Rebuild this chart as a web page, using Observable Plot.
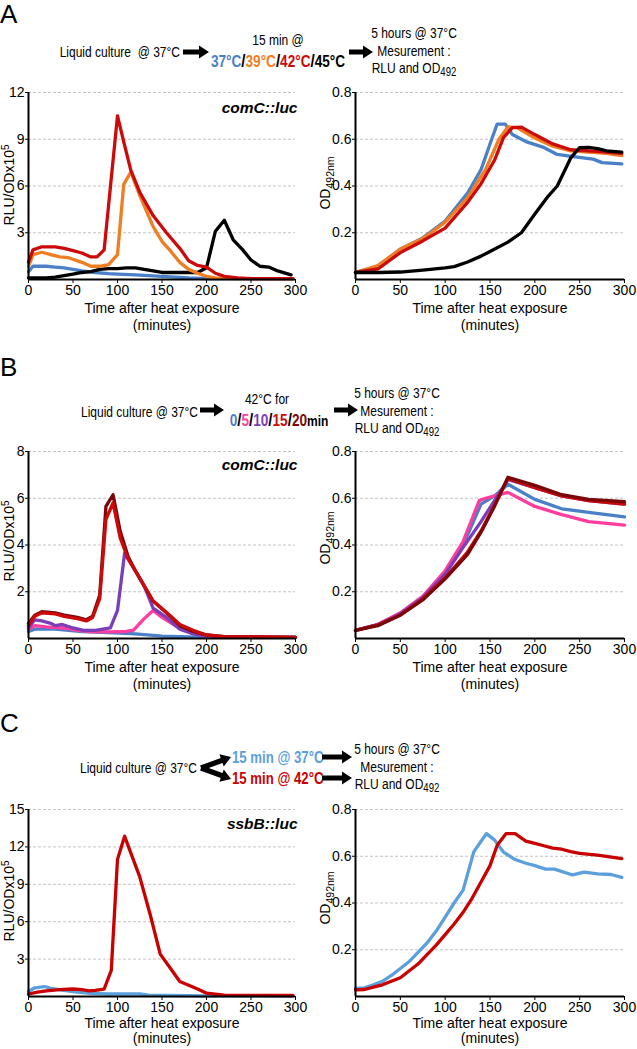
<!DOCTYPE html>
<html><head><meta charset="utf-8">
<script src="https://cdn.jsdelivr.net/npm/d3@7"></script>
<script src="https://cdn.jsdelivr.net/npm/@observablehq/plot@0.6"></script>
<style>
body{margin:0;background:#fff}
#root{position:relative;width:637px;height:1049px;overflow:hidden;background:#fff;font-family:"Liberation Sans",Arial,sans-serif}
#ov{position:absolute;left:0;top:0;pointer-events:none}
</style>
</head><body><div id="root"></div>
<script>
// ---------- DATA (time in minutes, value) ----------
const xTicks = [0, 50, 100, 150, 200, 250, 300];
const rluTicksA = [3, 6, 9, 12];
const rluTicksB = [2, 4, 6, 8];
const rluTicksC = [3, 6, 9, 12, 15];
const odTicks = [0.2, 0.4, 0.6, 0.8];

// Panel A - comC::luc, RLU
const aRlu37 = [[0,0.5],[5,0.85],[20,0.85],[30,0.8],[40,0.75],[50,0.65],[60,0.55],[75,0.45],[90,0.38],[100,0.35],[120,0.3],[150,0.2],[180,0.1],[200,0.06],[250,0.05],[297,0.05]];
const aRlu39 = [[0,0.85],[5,1.6],[15,1.75],[25,1.6],[35,1.45],[45,1.4],[60,1.1],[70,0.85],[80,0.85],[90,0.95],[100,1.6],[107,6.1],[115,6.9],[125,5.4],[140,3.4],[150,2.45],[160,1.8],[170,1.1],[180,0.65],[190,0.4],[200,0.2],[210,0.1],[230,0.06],[297,0.05]];
const aRlu42 = [[0,1.1],[5,1.9],[15,2.1],[30,2.1],[40,2.0],[50,1.85],[60,1.7],[70,1.45],[77,1.45],[85,1.9],[100,10.5],[108,8.6],[115,7.0],[125,5.6],[140,4.1],[155,3.0],[170,2.0],[180,1.2],[190,0.9],[200,0.8],[210,0.4],[220,0.2],[235,0.1],[250,0.05],[297,0.05]];
const aRlu45 = [[0,0.1],[20,0.1],[30,0.15],[40,0.25],[50,0.35],[60,0.45],[70,0.5],[80,0.65],[90,0.7],[100,0.7],[110,0.75],[120,0.75],[130,0.65],[140,0.55],[150,0.45],[170,0.45],[190,0.45],[200,0.75],[210,3.1],[220,3.8],[230,2.55],[240,1.95],[250,1.25],[260,0.85],[270,0.8],[280,0.55],[295,0.3]];
// Panel A - OD492
const aOd37 = [[0,0.03],[25,0.057],[50,0.13],[75,0.178],[100,0.25],[125,0.37],[140,0.47],[150,0.58],[158,0.665],[167,0.665],[175,0.62],[190,0.59],[210,0.565],[225,0.535],[245,0.525],[265,0.515],[275,0.5],[297,0.495]];
const aOd39 = [[0,0.03],[25,0.06],[50,0.13],[75,0.175],[100,0.245],[125,0.35],[145,0.47],[160,0.6],[170,0.653],[180,0.65],[200,0.605],[220,0.57],[240,0.55],[260,0.545],[280,0.54],[297,0.53]];
const aOd42 = [[0,0.03],[25,0.045],[50,0.115],[75,0.165],[100,0.22],[125,0.33],[140,0.41],[155,0.51],[165,0.607],[175,0.65],[185,0.652],[200,0.62],[220,0.58],[240,0.555],[260,0.55],[280,0.545],[297,0.54]];
const aOd45 = [[0,0.03],[25,0.03],[50,0.032],[75,0.04],[100,0.05],[110,0.055],[125,0.075],[140,0.1],[150,0.12],[170,0.16],[185,0.2],[200,0.28],[215,0.357],[225,0.4],[240,0.52],[250,0.564],[260,0.565],[270,0.56],[280,0.55],[297,0.545]];

// Panel B - comC::luc, RLU (42°C for 0/5/10/15/20 min)
const bRlu0 = [[0,0.3],[7,0.4],[30,0.4],[60,0.3],[90,0.25],[120,0.2],[150,0.1],[200,0.05],[300,0.05]];
const bRlu5 = [[0,0.4],[7,0.55],[20,0.5],[40,0.45],[55,0.35],[70,0.3],[90,0.28],[110,0.3],[118,0.36],[130,0.85],[140,1.2],[150,0.9],[165,0.55],[180,0.3],[200,0.1],[220,0.06],[300,0.05]];
const bRlu10 = [[0,0.45],[7,0.8],[15,0.75],[25,0.65],[30,0.55],[38,0.6],[50,0.45],[62,0.35],[75,0.35],[92,0.45],[100,1.2],[108,3.65],[120,2.9],[130,2.25],[140,1.3],[155,0.9],[170,0.4],[185,0.2],[200,0.1],[220,0.06],[300,0.05]];
const bRlu15 = [[0,0.55],[7,0.95],[15,1.1],[30,1.05],[40,0.95],[55,0.85],[65,0.75],[72,0.9],[80,1.7],[87,5.1],[95,5.8],[103,4.3],[112,3.4],[120,2.9],[140,1.6],[160,0.95],[170,0.6],[185,0.35],[200,0.15],[220,0.08],[300,0.05]];
const bRlu20 = [[0,0.65],[7,1.0],[15,1.15],[30,1.1],[40,1.0],[55,0.9],[65,0.8],[72,0.95],[80,1.85],[87,5.65],[95,6.15],[103,4.6],[112,3.5],[120,2.9],[140,1.6],[155,1.1],[170,0.55],[185,0.3],[200,0.15],[220,0.08],[300,0.05]];
// Panel B - OD492
const bOd0 = [[0,0.035],[25,0.06],[50,0.105],[75,0.175],[100,0.28],[120,0.4],[140,0.575],[155,0.61],[170,0.66],[200,0.595],[230,0.555],[260,0.54],[300,0.52]];
const bOd5 = [[0,0.035],[25,0.06],[50,0.11],[75,0.18],[100,0.29],[120,0.415],[138,0.59],[145,0.6],[170,0.625],[200,0.565],[230,0.53],[260,0.5],[300,0.485]];
const bOd10 = [[0,0.035],[25,0.06],[50,0.105],[75,0.175],[100,0.275],[120,0.39],[140,0.5],[155,0.59],[170,0.68],[200,0.645],[230,0.61],[260,0.59],[300,0.575]];
const bOd15 = [[0,0.035],[25,0.058],[50,0.1],[75,0.17],[100,0.26],[125,0.37],[140,0.46],[155,0.57],[170,0.685],[200,0.645],[230,0.61],[260,0.59],[300,0.575]];
const bOd20 = [[0,0.035],[25,0.055],[50,0.1],[75,0.165],[100,0.255],[125,0.36],[140,0.455],[155,0.565],[170,0.69],[200,0.655],[230,0.615],[260,0.595],[300,0.585]];

// Panel C - ssbB::luc, RLU
const cRlu37 = [[0,0.4],[7,0.7],[18,0.8],[25,0.65],[40,0.5],[55,0.35],[70,0.25],[90,0.2],[110,0.2],[125,0.2],[135,0.1],[200,0.05],[297,0.05]];
const cRlu42 = [[0,0.2],[10,0.35],[20,0.45],[35,0.55],[50,0.6],[60,0.55],[68,0.45],[75,0.5],[85,0.6],[93,2.1],[100,11.0],[108,12.85],[125,9.6],[137,6.5],[148,3.4],[160,2.2],[170,1.2],[180,0.9],[190,0.6],[200,0.27],[220,0.1],[297,0.08]];
// Panel C - OD492
const cOd37 = [[0,0.035],[10,0.037],[20,0.05],[30,0.065],[40,0.09],[50,0.12],[60,0.15],[70,0.19],[80,0.23],[90,0.28],[100,0.34],[110,0.4],[120,0.455],[132,0.62],[146,0.697],[155,0.67],[165,0.618],[178,0.586],[190,0.57],[200,0.56],[212,0.545],[222,0.545],[242,0.52],[255,0.532],[270,0.525],[285,0.522],[297,0.51]];
const cOd42 = [[0,0.028],[10,0.03],[20,0.04],[30,0.05],[40,0.065],[50,0.08],[60,0.11],[70,0.14],[80,0.18],[90,0.22],[100,0.265],[110,0.31],[120,0.36],[130,0.42],[140,0.49],[150,0.56],[158,0.647],[168,0.697],[178,0.697],[190,0.665],[200,0.655],[210,0.645],[220,0.635],[230,0.63],[240,0.62],[250,0.612],[270,0.605],[297,0.59]];

// ---------- STYLE ----------
const C = {blue:"#4a80c8", orange:"#ef7d22", red:"#cc0a0a", black:"#000000",
           pink:"#ff3d9e", purple:"#7b3db8", dark:"#7a0808", lblue:"#5b9fdc", cred:"#c80000"};

const root = document.getElementById("root");

function chart({left, top, ml, mr, yDomain, yTicks, series, tag, tagDy, lh}) {
  const marks = [
    Plot.gridY({ticks: yTicks, stroke: "#c4c4c4", strokeOpacity: 1, strokeDasharray: "3,2"}),
    ...series.map(s => Plot.line(s.data, {x: d => d[0], y: d => d[1], stroke: s.color,
      strokeWidth: s.w || 3.3, curve: "linear", strokeLinejoin: "round"})),
    Plot.ruleX([0], {strokeWidth: 2}),
    Plot.ruleY([0], {strokeWidth: 2}),
    Plot.axisX({ticks: xTicks, tickSize: 4, tickPadding: 2, label: null, fontSize: 14}),
    Plot.axisY({ticks: yTicks, tickSize: 3, tickPadding: 1, label: null, fontSize: 14}),
    Plot.text(["Time after heat exposure\n(minutes)"], {text: d => d, frameAnchor: "bottom",
      lineAnchor: "top", dy: 21, lineHeight: lh, fontSize: 14})
  ];
  if (tag) marks.push(Plot.text([tag], {text: d => d, frameAnchor: "top-right", textAnchor: "end",
      dx: 2, dy: tagDy, fontWeight: "bold", fontStyle: "italic", fontSize: 15.5}));
  const svg = Plot.plot({
    width: 310, height: 267, marginLeft: ml, marginRight: mr, marginTop: 20, marginBottom: 60,
    x: {domain: [0, 300]}, y: {domain: yDomain},
    style: {fontFamily: '"Liberation Sans", Arial, sans-serif', fontSize: "14px", color: "#000", background: "transparent", overflow: "visible"},
    marks
  });
  svg.style.position = "absolute";
  svg.style.left = left + "px";
  svg.style.top = top + "px";
  root.appendChild(svg);
}

const L = {left: 0, ml: 28, mr: 15};
const R = {left: 325, ml: 30, mr: 11};

chart({...L, top: 72, lh: 1.25, yDomain: [0, 12], yTicks: rluTicksA, tag: "comC::luc", tagDy: 9,
  series: [{data: aRlu37, color: C.blue}, {data: aRlu45, color: C.black}, {data: aRlu39, color: C.orange}, {data: aRlu42, color: C.red}]});
chart({...R, top: 72, lh: 1.25, yDomain: [0, 0.8], yTicks: odTicks,
  series: [{data: aOd37, color: C.blue}, {data: aOd39, color: C.orange}, {data: aOd42, color: C.red}, {data: aOd45, color: C.black}]});
chart({...L, top: 431, lh: 1.25, yDomain: [0, 8], yTicks: rluTicksB, tag: "comC::luc", tagDy: 7,
  series: [{data: bRlu0, color: C.blue}, {data: bRlu5, color: C.pink}, {data: bRlu10, color: C.purple}, {data: bRlu20, color: C.dark}, {data: bRlu15, color: C.red}]});
chart({...R, top: 431, lh: 1.25, yDomain: [0, 0.8], yTicks: odTicks,
  series: [{data: bOd0, color: C.blue}, {data: bOd5, color: C.pink}, {data: bOd10, color: C.purple}, {data: bOd15, color: C.red}, {data: bOd20, color: C.dark}]});
chart({...L, top: 789, lh: 1.08, yDomain: [0, 15], yTicks: rluTicksC, tag: "ssbB::luc", tagDy: 8,
  series: [{data: cRlu37, color: C.lblue}, {data: cRlu42, color: C.cred}]});
chart({...R, top: 789, lh: 1.08, yDomain: [0, 0.8], yTicks: odTicks,
  series: [{data: cOd37, color: C.lblue}, {data: cOd42, color: C.cred}]});

// ---------- OVERLAY: schematics, panel letters, y labels ----------
function arrow(x1, y1, x2, y2) {
  const dx = x2 - x1, dy = y2 - y1, len = Math.hypot(dx, dy);
  const ux = dx / len, uy = dy / len, nx = -uy, ny = ux;
  const hl = 10, hw = 6.5, sw = 2.6;
  const bx = x2 - ux * hl, by = y2 - uy * hl;
  const p = [[x1 + nx * sw, y1 + ny * sw], [bx + nx * sw, by + ny * sw], [bx + nx * hw, by + ny * hw], [x2, y2],
             [bx - nx * hw, by - ny * hw], [bx - nx * sw, by - ny * sw], [x1 - nx * sw, y1 - ny * sw]];
  return `<path d="M${p.map(q => q[0].toFixed(1) + "," + q[1].toFixed(1)).join("L")}Z" fill="#000"/>`;
}
// condensed text (reference schematic uses a narrow face)
const tn = (x, y, s, extra = "") => `<text transform="translate(${x},${y}) scale(0.8,1)" dy="0.35em" ${extra}>${s}</text>`;
const t = (x, y, s, extra = "") => `<text x="${x}" y="${y}" dy="0.35em" ${extra}>${s}</text>`;
const rlu = `RLU/ODx10<tspan dy="-5" font-size="10">5</tspan>`;
const od = `OD<tspan dy="4" font-size="10.5">492nm</tspan>`;
const ylab = (x, y, s) => `<text transform="translate(${x},${y}) rotate(-90)" text-anchor="middle" dy="0.35em" font-size="14">${s}</text>`;
const meas = (x, y0) => tn(x, y0, "5 hours @ 37°C", 'text-anchor="middle"') + tn(x, y0 + 18, "Mesurement :", 'text-anchor="middle"') +
  tn(x, y0 + 35, 'RLU and OD<tspan dy="3" font-size="12">492</tspan>', 'text-anchor="middle"');
const sl = `<tspan fill="#000" font-size="19">/</tspan>`;

const ov = `<svg id="ov" width="637" height="1049" font-family='"Liberation Sans",Arial,sans-serif' font-size="15" fill="#000">
${t(0, 14, "A", 'font-size="26"')}${t(0, 367, "B", 'font-size="26"')}${t(0, 723, "C", 'font-size="26"')}
${ylab(9, 185, rlu)}${ylab(325, 183, od)}${ylab(9, 541, rlu)}${ylab(325, 538, od)}${ylab(9, 901, rlu)}${ylab(325, 898, od)}
<g font-size="15">
${tn(180, 52, "Liquid culture&#160; @ 37°C", 'text-anchor="end"')}
${tn(278, 40, "15 min @", 'text-anchor="middle"')}
${tn(278, 61, `<tspan fill="${C.blue}">37°C</tspan>${sl}<tspan fill="${C.orange}">39°C</tspan>${sl}<tspan fill="${C.red}">42°C</tspan>${sl}<tspan fill="#000">45°C</tspan>`, 'text-anchor="middle" font-weight="bold" font-size="17"')}
${meas(414, 33)}
${tn(198, 412, "Liquid culture @ 37°C", 'text-anchor="end"')}
${tn(267, 399, "42°C for", 'text-anchor="middle"')}
${tn(279, 420, `<tspan fill="${C.blue}">0</tspan>${sl}<tspan fill="${C.pink}">5</tspan>${sl}<tspan fill="${C.purple}">10</tspan>${sl}<tspan fill="${C.red}">15</tspan>${sl}<tspan fill="${C.dark}">20</tspan><tspan fill="#000" font-size="15">min</tspan>`, 'text-anchor="middle" font-weight="bold" font-size="17"')}
${meas(397, 393)}
${tn(197, 768, "Liquid culture @ 37°C", 'text-anchor="end"')}
${tn(232, 757, "15 min @ 37°C", `font-weight="bold" font-size="16.5" fill="${C.lblue}"`)}
${tn(232, 778, "15 min @ 42°C", `font-weight="bold" font-size="16.5" fill="${C.cred}"`)}
${meas(397, 749)}
</g>
${arrow(183, 52, 209, 52)}${arrow(349, 52, 373, 52)}
${arrow(200, 410, 224, 410)}${arrow(334, 410, 358, 410)}
${arrow(201, 768, 231, 757)}${arrow(201, 768, 231, 779)}
${arrow(322, 757, 352, 757)}${arrow(322, 778, 352, 778)}
</svg>`;
root.insertAdjacentHTML("beforeend", ov);
</script>
</body></html>
